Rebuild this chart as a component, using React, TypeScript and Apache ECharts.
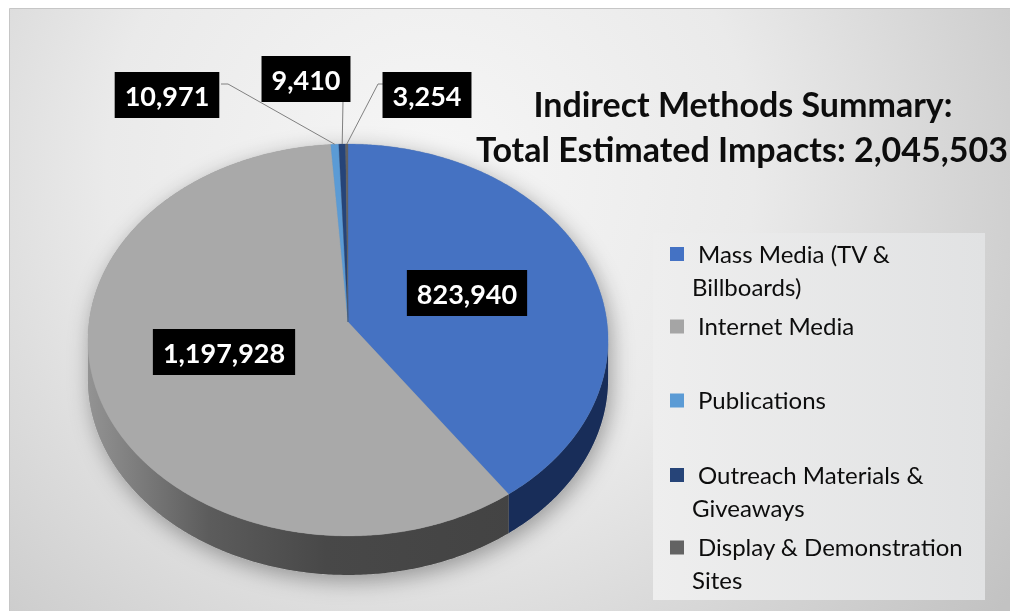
import React, { useEffect, useRef } from "react";
import * as echarts from "echarts";

// ---- data ----
const categories = [
  "Mass Media (TV & Billboards)",
  "Internet Media",
  "Publications",
  "Outreach Materials & Giveaways",
  "Display & Demonstration Sites",
];
const values = [823940, 1197928, 10971, 9410, 3254];
const legendLines = [
  ["Mass Media (TV &", "Billboards)"],
  ["Internet Media"],
  ["Publications"],
  ["Outreach Materials &", "Giveaways"],
  ["Display & Demonstration", "Sites"],
];
const titleLine1 = "Indirect Methods Summary:";
const titleLine2Prefix = "Total Estimated Impacts: ";

// ---- styles / layout ----
const topColors = ["#4572C2", "#A9A9A9", "#5B9BD5", "#264478", "#636363"];
const legendColors = ["#4472C4", "#A5A5A5", "#5B9BD5", "#264478", "#636363"];
const CX = 348, CY = 322, RA = 259, RB = 194.3, PERSP = 0.0918, DEPTH = 39;
const labelCenters = [[467, 293], [224, 352], [167, 95], [306, 79], [427, 95]];
// leader line start points (box side) for small slices; null = no leader
const leaderStarts: (number[][] | null)[] = [
  null,
  null,
  [[221, 84], [228, 84]],
  [[343, 101]],
  [[386, 84], [378, 84]],
];
const legendItemY = [254, 326.5, 400.5, 475, 547.5];
const FONT = "Lato, 'Open Sans', sans-serif";

const total = values.reduce((s, v) => s + v, 0);
const cumStart: number[] = [];
values.reduce((s, v, i) => { cumStart[i] = s; return s + v; }, 0);
const fmt = (n: number) => n.toLocaleString("en-US");

function proj(phi: number, dz = 0): number[] {
  const f = (phi * Math.PI) / 180;
  const u = Math.sin(f), v = -Math.cos(f);
  const k = 1 / (1 - PERSP * v);
  return [CX + RA * u * k, CY + RB * v * k + dz];
}
function arcPts(a0: number, a1: number, dz: number): number[][] {
  const n = Math.max(2, Math.ceil(Math.abs(a1 - a0) / 0.5) + 1);
  const pts: number[][] = [];
  for (let i = 0; i < n; i++) pts.push(proj(a0 + ((a1 - a0) * i) / (n - 1), dz));
  return pts;
}
const FRONT0 = (Math.acos(-PERSP) * 180) / Math.PI; // ~95.3
const FRONT1 = 360 - FRONT0;

export default function App() {
  const ref = useRef<HTMLDivElement>(null);
  useEffect(() => {
    if (!ref.current) return;
    const chart = echarts.init(ref.current, undefined, { renderer: "svg" });
    const seriesData = values.map((v, i) => ({ name: categories[i], value: [cumStart[i], v] }));

    const sideFill = (i: number) => {
      if (i === 1)
        return new echarts.graphic.LinearGradient(88, 0, 520, 0, [
          { offset: 0, color: "#939393" },
          { offset: 0.28, color: "#5c5c5c" },
          { offset: 0.55, color: "#484848" },
          { offset: 1, color: "#434343" },
        ], true);
      return ["#182d59", "#444444", "#2f5f8f", "#14264a", "#333333"][i];
    };

    const silhouette = [
      ...arcPts(FRONT1 - 360, FRONT0, 0),
      ...arcPts(FRONT0, FRONT1, DEPTH),
    ];

    const graphics: any[] = [
      {
        type: "rect", z: -20, silent: true,
        shape: { x: 9.5, y: 8.5, width: 1010, height: 610 },
        style: {
          fill: new echarts.graphic.RadialGradient(430, 170, 720, [
            { offset: 0, color: "#f6f6f6" },
            { offset: 0.45, color: "#eaeaea" },
            { offset: 1, color: "#c2c2c2" },
          ], true),
          stroke: "#c6c6c6", lineWidth: 1,
        },
      },
      {
        type: "rect", z: -15, silent: true,
        shape: { x: 653, y: 233, width: 332, height: 367 },
        style: {
          fill: new echarts.graphic.LinearGradient(0, 0, 1, 0, [
            { offset: 0, color: "#eeeeee" },
            { offset: 1, color: "#e1e2e3" },
          ]),
        },
      },
      {
        type: "polygon", z: -10, silent: true,
        shape: { points: silhouette },
        style: {
          fill: "#9a9a9a",
          shadowBlur: 22, shadowColor: "rgba(0,0,0,0.35)", shadowOffsetX: 3, shadowOffsetY: 6,
        },
      },
      {
        type: "text", z: 10, x: 743, y: 103,
        style: { text: titleLine1, fill: "#0d0d0d", fontSize: 34, fontWeight: "bold", fontFamily: FONT, align: "center", verticalAlign: "middle" },
      },
      {
        type: "text", z: 10, x: 742, y: 148,
        style: { text: titleLine2Prefix + fmt(total), fill: "#0d0d0d", fontSize: 34, fontWeight: "bold", fontFamily: FONT, align: "center", verticalAlign: "middle" },
      },
    ];
    legendLines.forEach((lines, i) => {
      const yc = legendItemY[i];
      graphics.push({
        type: "rect", z: 10,
        shape: { x: 670, y: yc - 7, width: 14, height: 14 },
        style: { fill: legendColors[i] },
      });
      lines.forEach((ln, j) => {
        graphics.push({
          type: "text", z: 10, x: j === 0 ? 698 : 692, y: yc - 1 + j * 33,
          style: { text: ln, fill: "#0d0d0d", fontSize: 24, fontFamily: FONT, align: "left", verticalAlign: "middle" },
        });
      });
    });

    const angles = (api: any) => {
      const s = api.value(0), v = api.value(1);
      return [(s / total) * 360, ((s + v) / total) * 360];
    };

    chart.setOption({
      animation: false,
      graphic: graphics,
      series: [
        {
          type: "custom", name: "sides", coordinateSystem: "none", z: 2, silent: true,
          data: seriesData,
          renderItem: (params: any, api: any) => {
            const [a0, a1] = angles(api);
            const s = Math.max(a0, FRONT0), e = Math.min(a1, FRONT1);
            if (e <= s) return { type: "group", children: [] };
            const pts = [...arcPts(s, e, 0), ...arcPts(e, s, DEPTH)];
            return { type: "polygon", shape: { points: pts }, style: { fill: sideFill(params.dataIndex) } };
          },
        },
        {
          type: "custom", name: "tops", coordinateSystem: "none", z: 3, silent: true,
          data: seriesData,
          renderItem: (params: any, api: any) => {
            const [a0, a1] = angles(api);
            const pts = [[CX, CY], ...arcPts(a0, a1, 0)];
            return { type: "polygon", shape: { points: pts }, style: { fill: topColors[params.dataIndex], stroke: topColors[params.dataIndex], lineWidth: 0.3 } };
          },
        },
        {
          type: "custom", name: "labels", coordinateSystem: "none", z: 4, silent: true,
          data: seriesData,
          renderItem: (params: any, api: any) => {
            const i = params.dataIndex;
            const [a0, a1] = angles(api);
            const children: any[] = [];
            const ls = leaderStarts[i];
            if (ls) {
              const end = proj((a0 + a1) / 2, 0);
              children.push({
                type: "polyline",
                shape: { points: [...ls, end] },
                style: { stroke: "#808080", lineWidth: 1, fill: "none" },
              });
            }
            const [lx, ly] = labelCenters[i];
            children.push({
              type: "text", x: lx, y: ly,
              style: {
                text: fmt(api.value(1)), fill: "#ffffff", fontSize: 27, fontWeight: "bold", fontFamily: FONT,
                align: "center", verticalAlign: "middle", lineHeight: 30,
                backgroundColor: "#000000", padding: [8, 10],
                boxShadowBlur: 4, boxShadowColor: "rgba(0,0,0,0.45)", boxShadowOffsetX: 2, boxShadowOffsetY: 3,
              },
            });
            return { type: "group", children };
          },
        },
      ],
    });
    return () => chart.dispose();
  }, []);
  return <div ref={ref} style={{ position: "fixed", left: 0, top: 0, width: 1010, height: 611 }} />;
}
